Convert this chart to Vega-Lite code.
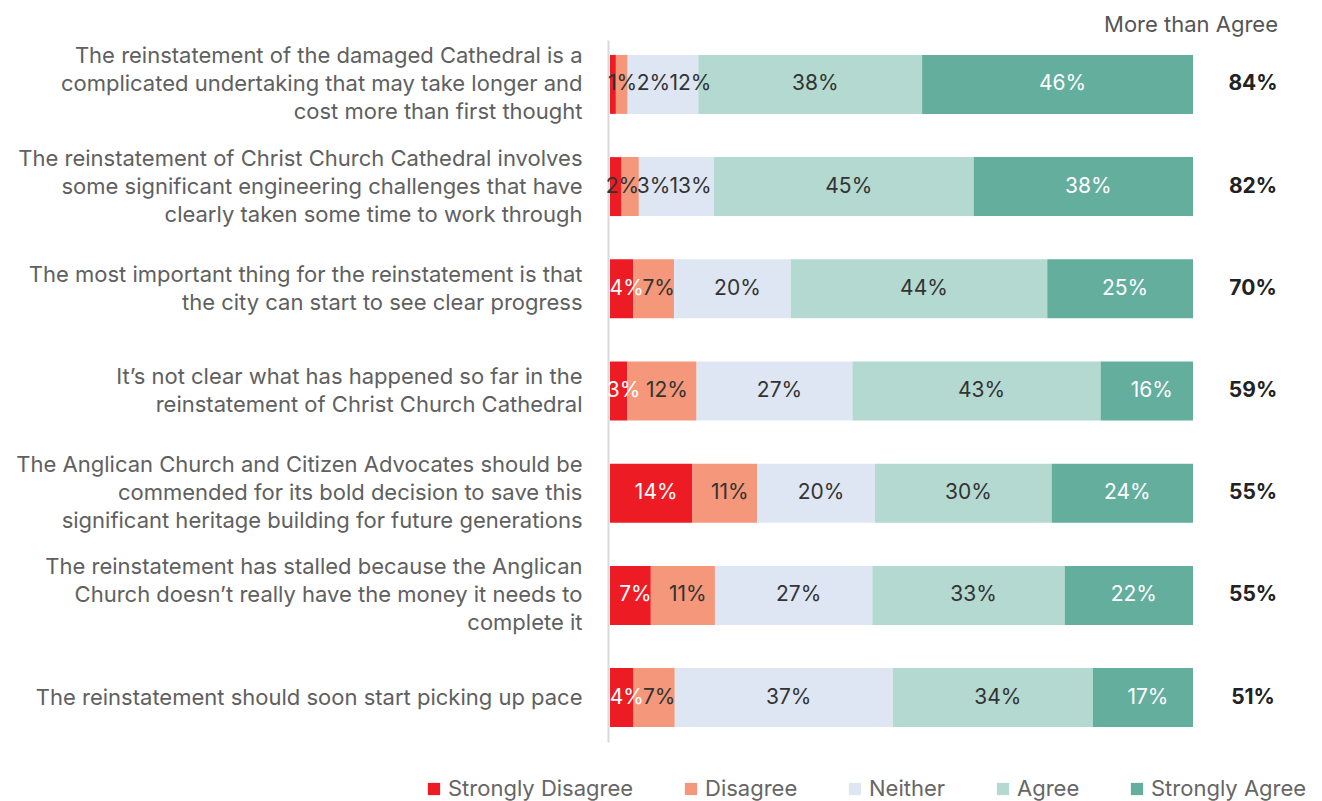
{
  "$schema": "https://vega.github.io/schema/vega-lite/v6.json",
  "width": 668,
  "height": 702,
  "autosize": {"type": "none"},
  "padding": {"left": 610, "top": 40, "right": 44, "bottom": 59},
  "background": "white",
  "config": {
    "view": {"stroke": null},
    "font": "Inter",
    "text": {"font": "Inter"}
  },
  "title": {
    "text": "More than Agree",
    "anchor": "end",
    "frame": "group",
    "fontSize": 22,
    "fontWeight": "normal",
    "color": "#555555",
    "font": "Inter",
    "offset": 3
  },
  "datasets": {
    "bars": [
      {"statement": "The reinstatement of the damaged Cathedral is a|complicated undertaking that may take longer and|cost more than first thought", "cat": "Strongly Disagree", "o": 1, "value": 1},
      {"statement": "The reinstatement of the damaged Cathedral is a|complicated undertaking that may take longer and|cost more than first thought", "cat": "Disagree", "o": 2, "value": 2},
      {"statement": "The reinstatement of the damaged Cathedral is a|complicated undertaking that may take longer and|cost more than first thought", "cat": "Neither", "o": 3, "value": 12},
      {"statement": "The reinstatement of the damaged Cathedral is a|complicated undertaking that may take longer and|cost more than first thought", "cat": "Agree", "o": 4, "value": 38},
      {"statement": "The reinstatement of the damaged Cathedral is a|complicated undertaking that may take longer and|cost more than first thought", "cat": "Strongly Agree", "o": 5, "value": 46},
      {"statement": "The reinstatement of Christ Church Cathedral involves|some significant engineering challenges that have|clearly taken some time to work through", "cat": "Strongly Disagree", "o": 1, "value": 2},
      {"statement": "The reinstatement of Christ Church Cathedral involves|some significant engineering challenges that have|clearly taken some time to work through", "cat": "Disagree", "o": 2, "value": 3},
      {"statement": "The reinstatement of Christ Church Cathedral involves|some significant engineering challenges that have|clearly taken some time to work through", "cat": "Neither", "o": 3, "value": 13},
      {"statement": "The reinstatement of Christ Church Cathedral involves|some significant engineering challenges that have|clearly taken some time to work through", "cat": "Agree", "o": 4, "value": 45},
      {"statement": "The reinstatement of Christ Church Cathedral involves|some significant engineering challenges that have|clearly taken some time to work through", "cat": "Strongly Agree", "o": 5, "value": 38},
      {"statement": "The most important thing for the reinstatement is that|the city can start to see clear progress", "cat": "Strongly Disagree", "o": 1, "value": 4},
      {"statement": "The most important thing for the reinstatement is that|the city can start to see clear progress", "cat": "Disagree", "o": 2, "value": 7},
      {"statement": "The most important thing for the reinstatement is that|the city can start to see clear progress", "cat": "Neither", "o": 3, "value": 20},
      {"statement": "The most important thing for the reinstatement is that|the city can start to see clear progress", "cat": "Agree", "o": 4, "value": 44},
      {"statement": "The most important thing for the reinstatement is that|the city can start to see clear progress", "cat": "Strongly Agree", "o": 5, "value": 25},
      {"statement": "It’s not clear what has happened so far in the|reinstatement of Christ Church Cathedral", "cat": "Strongly Disagree", "o": 1, "value": 3},
      {"statement": "It’s not clear what has happened so far in the|reinstatement of Christ Church Cathedral", "cat": "Disagree", "o": 2, "value": 12},
      {"statement": "It’s not clear what has happened so far in the|reinstatement of Christ Church Cathedral", "cat": "Neither", "o": 3, "value": 27},
      {"statement": "It’s not clear what has happened so far in the|reinstatement of Christ Church Cathedral", "cat": "Agree", "o": 4, "value": 43},
      {"statement": "It’s not clear what has happened so far in the|reinstatement of Christ Church Cathedral", "cat": "Strongly Agree", "o": 5, "value": 16},
      {"statement": "The Anglican Church and Citizen Advocates should be|commended for its bold decision to save this|significant heritage building for future generations", "cat": "Strongly Disagree", "o": 1, "value": 14},
      {"statement": "The Anglican Church and Citizen Advocates should be|commended for its bold decision to save this|significant heritage building for future generations", "cat": "Disagree", "o": 2, "value": 11},
      {"statement": "The Anglican Church and Citizen Advocates should be|commended for its bold decision to save this|significant heritage building for future generations", "cat": "Neither", "o": 3, "value": 20},
      {"statement": "The Anglican Church and Citizen Advocates should be|commended for its bold decision to save this|significant heritage building for future generations", "cat": "Agree", "o": 4, "value": 30},
      {"statement": "The Anglican Church and Citizen Advocates should be|commended for its bold decision to save this|significant heritage building for future generations", "cat": "Strongly Agree", "o": 5, "value": 24},
      {"statement": "The reinstatement has stalled because the Anglican|Church doesn’t really have the money it needs to|complete it", "cat": "Strongly Disagree", "o": 1, "value": 7},
      {"statement": "The reinstatement has stalled because the Anglican|Church doesn’t really have the money it needs to|complete it", "cat": "Disagree", "o": 2, "value": 11},
      {"statement": "The reinstatement has stalled because the Anglican|Church doesn’t really have the money it needs to|complete it", "cat": "Neither", "o": 3, "value": 27},
      {"statement": "The reinstatement has stalled because the Anglican|Church doesn’t really have the money it needs to|complete it", "cat": "Agree", "o": 4, "value": 33},
      {"statement": "The reinstatement has stalled because the Anglican|Church doesn’t really have the money it needs to|complete it", "cat": "Strongly Agree", "o": 5, "value": 22},
      {"statement": "The reinstatement should soon start picking up pace", "cat": "Strongly Disagree", "o": 1, "value": 4},
      {"statement": "The reinstatement should soon start picking up pace", "cat": "Disagree", "o": 2, "value": 7},
      {"statement": "The reinstatement should soon start picking up pace", "cat": "Neither", "o": 3, "value": 37},
      {"statement": "The reinstatement should soon start picking up pace", "cat": "Agree", "o": 4, "value": 34},
      {"statement": "The reinstatement should soon start picking up pace", "cat": "Strongly Agree", "o": 5, "value": 17}
    ],
    "totals": [
      {"statement": "The reinstatement of the damaged Cathedral is a|complicated undertaking that may take longer and|cost more than first thought", "total": 84},
      {"statement": "The reinstatement of Christ Church Cathedral involves|some significant engineering challenges that have|clearly taken some time to work through", "total": 82},
      {"statement": "The most important thing for the reinstatement is that|the city can start to see clear progress", "total": 70},
      {"statement": "It’s not clear what has happened so far in the|reinstatement of Christ Church Cathedral", "total": 59},
      {"statement": "The Anglican Church and Citizen Advocates should be|commended for its bold decision to save this|significant heritage building for future generations", "total": 55},
      {"statement": "The reinstatement has stalled because the Anglican|Church doesn’t really have the money it needs to|complete it", "total": 55},
      {"statement": "The reinstatement should soon start picking up pace", "total": 51}
    ]
  },
  "encoding": {
    "y": {
      "field": "statement",
      "type": "nominal",
      "sort": null,
      "scale": {"paddingInner": 0.423, "paddingOuter": 0.146},
      "axis": {
        "title": null,
        "ticks": false,
        "offset": 2,
        "domainColor": "#d9d9d9",
        "domainWidth": 2,
        "labelFontSize": 22,
        "labelFont": "Inter",
        "labelColor": "#606060",
        "labelLimit": 0,
        "labelPadding": 26,
        "labelLineHeight": 28,
        "labelBaseline": "middle",
        "labelOffset": {
          "condition": [
            {"test": "length(split(datum.value, '|')) == 3", "value": -28},
            {"test": "length(split(datum.value, '|')) == 2", "value": -14}
          ],
          "value": 0
        },
        "labelExpr": "split(datum.label, '|')"
      }
    }
  },
  "layer": [
    {
      "data": {"name": "bars"},
      "transform": [
        {"stack": "value", "groupby": ["statement"], "sort": [{"field": "o"}], "offset": "normalize", "as": ["x0", "x1"]},
        {"calculate": "datum.value + '%'", "as": "label"},
        {"calculate": "((length(datum.label) - 1) * 12 + 17) / 2 / 583", "as": "hw"},
        {"calculate": "datum.o == 1 ? max((datum.x0 + datum.x1) / 2 + 5 / 583, datum.hw - 2 / 583) : (datum.x0 + datum.x1) / 2 + 5 / 583", "as": "pos"},
        {"window": [{"op": "lag", "field": "pos", "as": "pp"}, {"op": "lag", "field": "hw", "as": "ph"}], "groupby": ["statement"], "sort": [{"field": "o"}]},
        {"calculate": "datum.pp == null ? datum.pos : max(datum.pos, datum.pp + datum.ph + datum.hw + 2 / 583)", "as": "pos"},
        {"window": [{"op": "lag", "field": "pos", "as": "pp"}], "groupby": ["statement"], "sort": [{"field": "o"}]},
        {"calculate": "datum.pp == null ? datum.pos : max(datum.pos, datum.pp + datum.ph + datum.hw + 2 / 583)", "as": "pos"},
        {"window": [{"op": "lag", "field": "pos", "as": "pp"}], "groupby": ["statement"], "sort": [{"field": "o"}]},
        {"calculate": "datum.pp == null ? datum.pos : max(datum.pos, datum.pp + datum.ph + datum.hw + 2 / 583)", "as": "pos"}
      ],
      "layer": [
        {
          "mark": {"type": "bar"},
          "encoding": {
            "x": {"field": "x0", "type": "quantitative", "scale": {"domain": [0, 1.1458], "nice": false, "zero": true}, "axis": null},
            "x2": {"field": "x1"},
            "color": {
              "field": "cat",
              "type": "nominal",
              "sort": ["Strongly Disagree", "Disagree", "Neither", "Agree", "Strongly Agree"],
              "scale": {
                "domain": ["Strongly Disagree", "Disagree", "Neither", "Agree", "Strongly Agree"],
                "range": ["#ED1C24", "#F4977A", "#DFE6F3", "#B3D9D0", "#63AE9D"]
              },
              "legend": {
                "title": null,
                "orient": "none",
                "direction": "horizontal",
                "legendX": -187,
                "legendY": 738,
                "symbolType": "square",
                "symbolSize": 150,
                "symbolStrokeWidth": 0,
                "labelFontSize": 22,
                "labelFont": "Inter",
                "labelColor": "#666666",
                "labelLimit": 0,
                "labelOffset": 3,
                "columnPadding": 46
              }
            }
          }
        },
        {
          "mark": {"type": "text", "fontSize": 21, "font": "Inter", "align": "center", "baseline": "middle"},
          "encoding": {
            "x": {"field": "pos", "type": "quantitative"},
            "text": {"field": "label", "type": "nominal"},
            "color": {
              "condition": {"test": "datum.cat === 'Strongly Agree' || (datum.cat === 'Strongly Disagree' && datum.value >= 3)", "value": "#ffffff"},
              "value": "#333333"
            }
          }
        }
      ]
    },
    {
      "data": {"name": "totals"},
      "transform": [{"calculate": "datum.total + '%'", "as": "label"}],
      "mark": {"type": "text", "fontSize": 21, "font": "Inter", "fontWeight": "bold", "align": "center", "baseline": "middle", "color": "#222222"},
      "encoding": {
        "x": {"datum": 1.103, "type": "quantitative"},
        "text": {"field": "label", "type": "nominal"}
      }
    }
  ]
}
